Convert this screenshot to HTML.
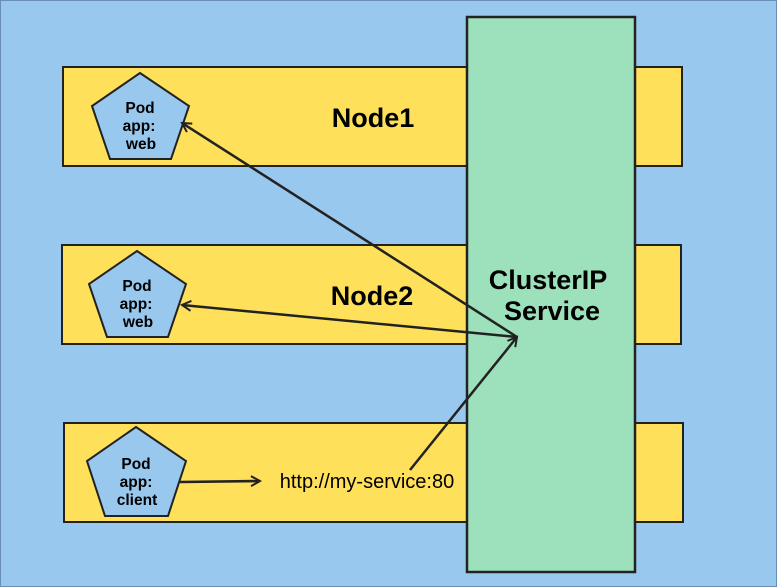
<!DOCTYPE html>
<html><head><meta charset="utf-8"><style>
html,body{margin:0;padding:0;background:#99c8ee;}
svg{display:block;}
text{font-family:"Liberation Sans",Arial,sans-serif;fill:#000;}
</style></head><body>
<svg width="777" height="587" viewBox="0 0 777 587" xmlns="http://www.w3.org/2000/svg">
<defs>
<marker id="a" markerWidth="12" markerHeight="12" refX="10" refY="6" orient="auto" markerUnits="userSpaceOnUse">
<path d="M1,1 L10,6 L1,11" fill="none" stroke="#222" stroke-width="2"/>
</marker>
</defs>
<rect x="0.5" y="0.5" width="776" height="586" fill="#99c8ee" stroke="#6a8fb5" stroke-width="1"/>
<rect x="63" y="67" width="619" height="99" fill="#fee05a" stroke="#222" stroke-width="2"/>
<rect x="62" y="245" width="619" height="99" fill="#fee05a" stroke="#222" stroke-width="2"/>
<rect x="64" y="423" width="619" height="99" fill="#fee05a" stroke="#222" stroke-width="2"/>
<rect x="467" y="17" width="168" height="555" fill="#9de1bc" stroke="#222" stroke-width="2.5"/>
<polygon points="140,73 189,106 171,159 110,159 92,106" fill="#99c8ee" stroke="#222" stroke-width="2"/>
<polygon points="137,251 186,284 168,337 107,337 89,284" fill="#99c8ee" stroke="#222" stroke-width="2"/>
<polygon points="136,427 186,461 168,516 105,516 87,461" fill="#99c8ee" stroke="#222" stroke-width="2"/>
<g font-size="15.5" font-weight="bold" text-anchor="middle">
<text x="140" y="113">Pod</text><text x="139" y="131">app:</text><text x="141" y="149">web</text>
<text x="137" y="291">Pod</text><text x="136" y="309">app:</text><text x="138" y="327">web</text>
<text x="136" y="469">Pod</text><text x="136" y="487">app:</text><text x="137" y="505">client</text>
</g>
<g font-size="27" font-weight="bold" text-anchor="middle">
<text x="373" y="127">Node1</text>
<text x="372" y="305">Node2</text>
<text x="548" y="289">ClusterIP</text>
<text x="552" y="320">Service</text>
</g>
<text x="367" y="488" font-size="20" text-anchor="middle">http://my-service:80</text>
<g stroke="#222" stroke-width="2.5" fill="none">
<line x1="517" y1="337" x2="182" y2="123" marker-end="url(#a)"/>
<line x1="517" y1="337" x2="182" y2="305" marker-end="url(#a)"/>
<line x1="410" y1="470" x2="517" y2="337" marker-end="url(#a)"/>
<line x1="180" y1="482" x2="260" y2="481" marker-end="url(#a)"/>
</g>
</svg>
</body></html>
